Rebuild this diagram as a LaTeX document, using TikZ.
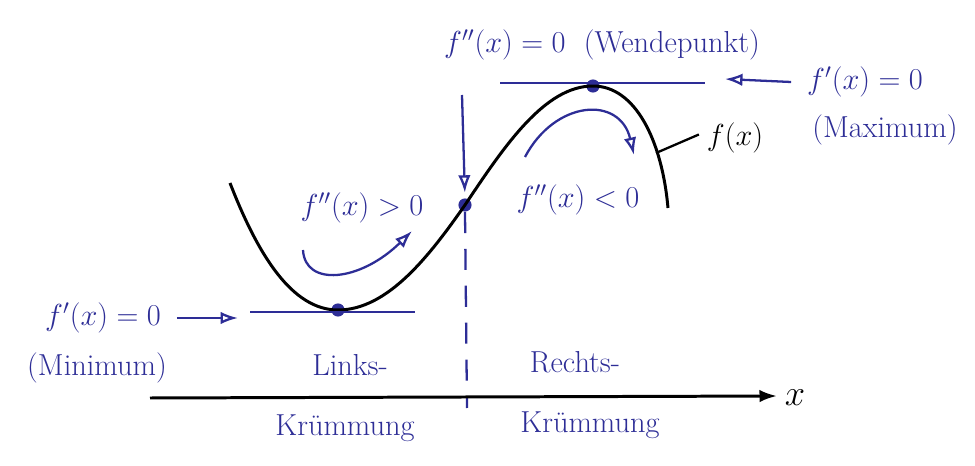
\documentclass[tikz,border=0pt]{standalone}
\usepackage{amsmath,amssymb}
\usepackage{tikz}
\usetikzlibrary{arrows.meta, positioning}
\definecolor{inkblue}{RGB}{45,45,150}

\begin{document}
\begin{tikzpicture}[x=0.02cm, y=-0.02cm,
        ink/.style={text=inkblue, font=\LARGE, inner sep=1pt},
        dot/.style={circle, fill=inkblue, inner sep=0pt, minimum size=7.5pt},
        tangent/.style={draw=inkblue, line width=1.5pt},
        arrow/.style={draw=inkblue, line width=1.3pt, -{Latex[length=3.5mm, width=2.5mm, open]}},
        curve/.style={draw=black, line width=1.7pt},
        axis/.style={draw=black, line width=1.7pt, -{Latex[length=3.5mm, width=2.5mm]}}
    ]
        \useasboundingbox (0,0) rectangle (975,466);
        % labels
        \node [ink] (minlabel)  at (103,318) {$f'(x)=0$};
        \node [ink] (minnote)   at (97,368)  {(Minimum)};
        \node [ink] (wendelabel) at (602,45) {$f''(x)=0$ \ (Wendepunkt)};
        \node [ink] (maxlabel)  at (865,82)  {$f'(x)=0$};
        \node [ink] (maxnote)   at (885,130) {(Maximum)};
        \node [ink] (leftcurv)  at (362,208) {$f''(x)>0$};
        \node [ink] (rightcurv) at (578,200) {$f''(x)<0$};
        \node [font=\LARGE] (flabel) at (735,138) {$f(x)$};
        \node [ink] (links)     at (350,365) {Links-};
        \node [ink] (linkskr)   at (345,428) {Krümmung};
        \node [ink] (rechts)    at (575,362) {Rechts-};
        \node [ink] (rechtskr)  at (590,425) {Krümmung};
        \node [font=\huge] (xlabel) at (795,398) {$x$};
        % points on the curve
        \node [dot] (minpt)   at (338,310) {};
        \node [dot] (wendept) at (465,205) {};
        \node [dot] (maxpt)   at (593,86)  {};
        \coordinate (curvestart) at (230,183);
        \coordinate (curveend)   at (668,208);
        \coordinate (fleader)    at (656,153);
        \coordinate (mintanL) at (250,312);
        \coordinate (mintanR) at (415,312);
        \coordinate (maxtanL) at (500,83);
        \coordinate (maxtanR) at (705,83);
        \coordinate (minarrowend) at (238,318);
        \coordinate (maxarrowend) at (725,79);
        \coordinate (wendetop) at (462,95);
        \coordinate (dashend)  at (467,408);
        \coordinate (xstart) at (150,398);
        \coordinate (xend)   at (777,396);
        \coordinate (leftarcA) at (303,250);
        \coordinate (leftarcB) at (412,231);
        \coordinate (rightarcA) at (525,157);
        \coordinate (rightarcB) at (634,155);
        % the function
        \draw [curve] (curvestart) .. controls (258,255) and (292,310) .. (minpt.center)
              .. controls (388,310) and (430,255) .. (wendept.center)
              .. controls (505,145) and (545,86) .. (maxpt.center)
              .. controls (635,86) and (662,140) .. (curveend);
        \draw [black, line width=1.3pt] (fleader) -- ([xshift=-1pt, yshift=2pt]flabel.west);
        % tangents
        \path [tangent] (mintanL) -- (mintanR);
        \path [tangent] (maxtanL) -- (maxtanR);
        % arrows
        \path [arrow] ([xshift=8pt]minlabel.east) -- (minarrowend);
        \path [arrow] ([xshift=-8pt]maxlabel.west) -- (maxarrowend);
        \path [arrow, shorten >=3pt] (wendetop) -- (wendept.north);
        \path [arrow] (leftarcA) .. controls (305,287) and (360,282) .. (leftarcB);
        \path [arrow] (rightarcA) .. controls (555,100) and (620,95) .. (rightarcB);
        \draw [inkblue, line width=1.3pt, dash pattern=on 12pt off 9pt] (wendept.south) -- (dashend);
        % x axis
        \path [axis] (xstart) -- (xend);
    \end{tikzpicture}
\end{document}
